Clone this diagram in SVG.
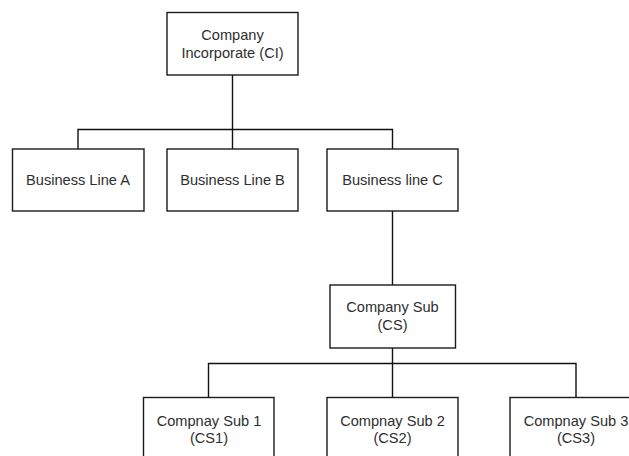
<svg xmlns="http://www.w3.org/2000/svg" width="629" height="456" viewBox="0 0 629 456">
  <style>
    .box { fill: #ffffff; stroke: #1a1a1a; stroke-width: 1.4; }
    .lbl { font-family: "Liberation Sans", Arial, sans-serif; font-size: 14.6px; fill: #2e2e2e; text-anchor: middle; }
    .wire { fill: none; stroke: #111111; stroke-width: 1.4; }
  </style>
  <rect width="629" height="456" fill="#ffffff"/>

  <g id="connectors">
    <path class="wire" d="M232.5 75 V129.5 M78 149 V129.5 H392.5 V149 M232.5 129.5 V149"/>
    <path class="wire" d="M392.5 211 V285"/>
    <path class="wire" d="M392.5 348 V397 M208.5 397 V363.5 H576 V397"/>
  </g>

  <g id="company-incorporate">
    <rect class="box" x="167" y="12.5" width="131" height="62.5"/>
    <text class="lbl" x="232.5" y="40">Company</text>
    <text class="lbl" x="232.5" y="57.5">Incorporate (CI)</text>
  </g>

  <g id="business-line-a">
    <rect class="box" x="12.5" y="149" width="131.5" height="62"/>
    <text class="lbl" x="78" y="184.5">Business Line A</text>
  </g>

  <g id="business-line-b">
    <rect class="box" x="167" y="149" width="131" height="62"/>
    <text class="lbl" x="232.5" y="184.5">Business Line B</text>
  </g>

  <g id="business-line-c">
    <rect class="box" x="327" y="149" width="131" height="62"/>
    <text class="lbl" x="392.5" y="184.5">Business line C</text>
  </g>

  <g id="company-sub">
    <rect class="box" x="330" y="285" width="125.5" height="63"/>
    <text class="lbl" x="392.5" y="311.5">Company Sub</text>
    <text class="lbl" x="392.5" y="329.5">(CS)</text>
  </g>

  <g id="company-sub-1">
    <rect class="box" x="143.5" y="397.5" width="130.5" height="70"/>
    <text class="lbl" x="209" y="425.5">Compnay Sub 1</text>
    <text class="lbl" x="209" y="443">(CS1)</text>
  </g>

  <g id="company-sub-2">
    <rect class="box" x="327" y="397.5" width="131" height="70"/>
    <text class="lbl" x="392.5" y="425.5">Compnay Sub 2</text>
    <text class="lbl" x="392.5" y="443">(CS2)</text>
  </g>

  <g id="company-sub-3">
    <rect class="box" x="510" y="397.5" width="131" height="70"/>
    <text class="lbl" x="576" y="425.5">Compnay Sub 3</text>
    <text class="lbl" x="576" y="443">(CS3)</text>
  </g>
</svg>
